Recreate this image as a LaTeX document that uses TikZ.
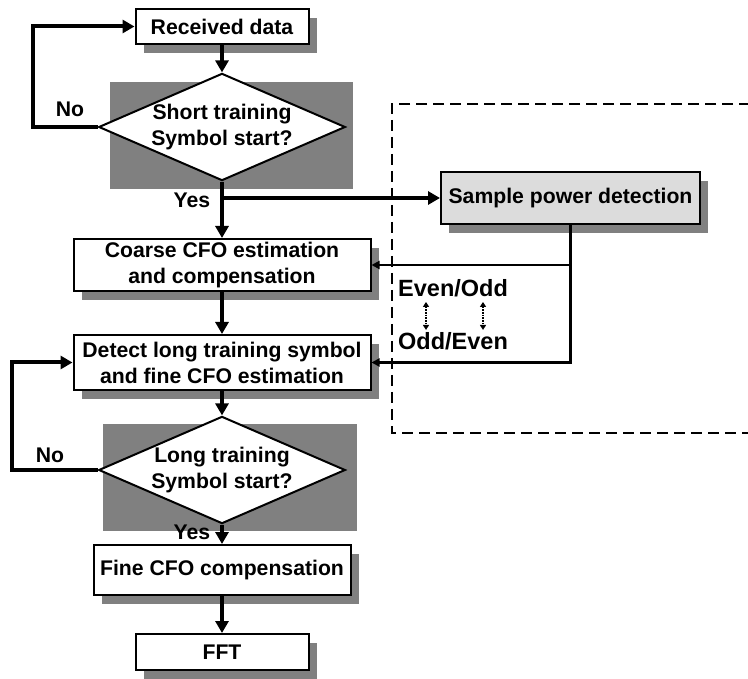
\documentclass[tikz,border=0pt]{standalone}
\usepackage{fontspec}
\setmainfont{Liberation Sans}
\usetikzlibrary{arrows.meta,shapes.geometric,shadows}
\definecolor{shadowgray}{HTML}{808080}
\definecolor{boxgray}{HTML}{DCDCDC}

\begin{document}
\begin{tikzpicture}[x=1pt, y=-1pt,
  font=\fontsize{21.2}{26}\selectfont\bfseries,
  box/.style={draw, line width=2pt, fill=white, align=center, inner sep=0pt,
    drop shadow={shadow xshift=8pt, shadow yshift=-9pt, fill=shadowgray, opacity=1}},
  decision/.style={diamond, draw, line width=2pt, fill=white, align=center,
    inner sep=0pt, aspect=2.3},
  flow/.style={line width=4pt, -{Triangle[length=12pt,width=13pt]}},
  fb/.style={line width=2.4pt, -{Triangle[length=8pt,width=8pt]}},
  swaparrow/.style={line width=2pt, dash pattern=on 1.5pt off 1.2pt,
    {Triangle[length=5pt,width=6pt]}-{Triangle[length=5pt,width=6pt]}}]
  \useasboundingbox (0,0) rectangle (748,679);

  % Grey panels behind the two decisions
  \fill[shadowgray] (110,82) rectangle (353,189);
  \fill[shadowgray] (103,424) rectangle (357,531);

  % Dashed frame round the power detection part
  \draw[line width=2.8pt, dash pattern=on 11pt off 6pt]
    (750,104) -- (392,104) -- (392,433) -- (750,433);

  % Main column
  \node[box, minimum width=173pt, minimum height=35pt] (rec) at (222,26.5) {Received data};
  \node[decision] (d1) at (222,127) {Short training\\Symbol start?};
  \node[box, minimum width=297pt, minimum height=52pt] (coarse) at (222,265)
    {Coarse CFO estimation\\and compensation};
  \node[box, minimum width=297pt, minimum height=55pt] (detect) at (222,362.5)
    {Detect long training symbol\\and fine CFO estimation};
  \node[decision] (d2) at (222,470) {Long training\\Symbol start?};
  \node[box, minimum width=257pt, minimum height=50pt] (fine) at (222,570) {Fine CFO compensation};
  \node[box, minimum width=173pt, minimum height=36pt] (fft) at (222,652) {FFT};

  % Side block
  \node[box, fill=boxgray, minimum width=259pt, minimum height=52pt] (sample) at (570.5,198)
    {Sample power detection};

  % Labels
  \node (no1) at (70,109) {No};
  \node (yes1) at (192,200) {Yes};
  \node (no2) at (50,455) {No};
  \node (yes2) at (192,532) {Yes};
  \node[font=\fontsize{23.5}{26}\selectfont\bfseries, anchor=west, inner sep=0pt] (eo) at (398,288) {Even/Odd};
  \node[font=\fontsize{23.5}{26}\selectfont\bfseries, anchor=west, inner sep=0pt] (oe) at (398,341) {Odd/Even};

  % Connectors
  \draw[flow] (rec) -- (d1);
  \draw[flow] (d1) -- (coarse);
  \draw[flow] (d1.west) -- ++(-65,0) |- (rec.west);
  \draw[flow] (d1.south |- sample.west) -- (sample.west);
  \draw[flow] (coarse) -- (detect);
  \draw[flow] (detect) -- (d2);
  \draw[flow] (d2) -- (fine);
  \draw[flow] (d2.west) -- ++(-86,0) |- (detect.west);
  \draw[flow] (fine) -- (fft);
  \draw[fb] (sample.south) |- (coarse.east);
  \draw[fb] (sample.south) |- (detect.east);
  \draw[swaparrow] (eo.south west) ++(28,5) -- ++(0,28);
  \draw[swaparrow] (eo.south west) ++(85,5) -- ++(0,28);
\end{tikzpicture}
\end{document}
